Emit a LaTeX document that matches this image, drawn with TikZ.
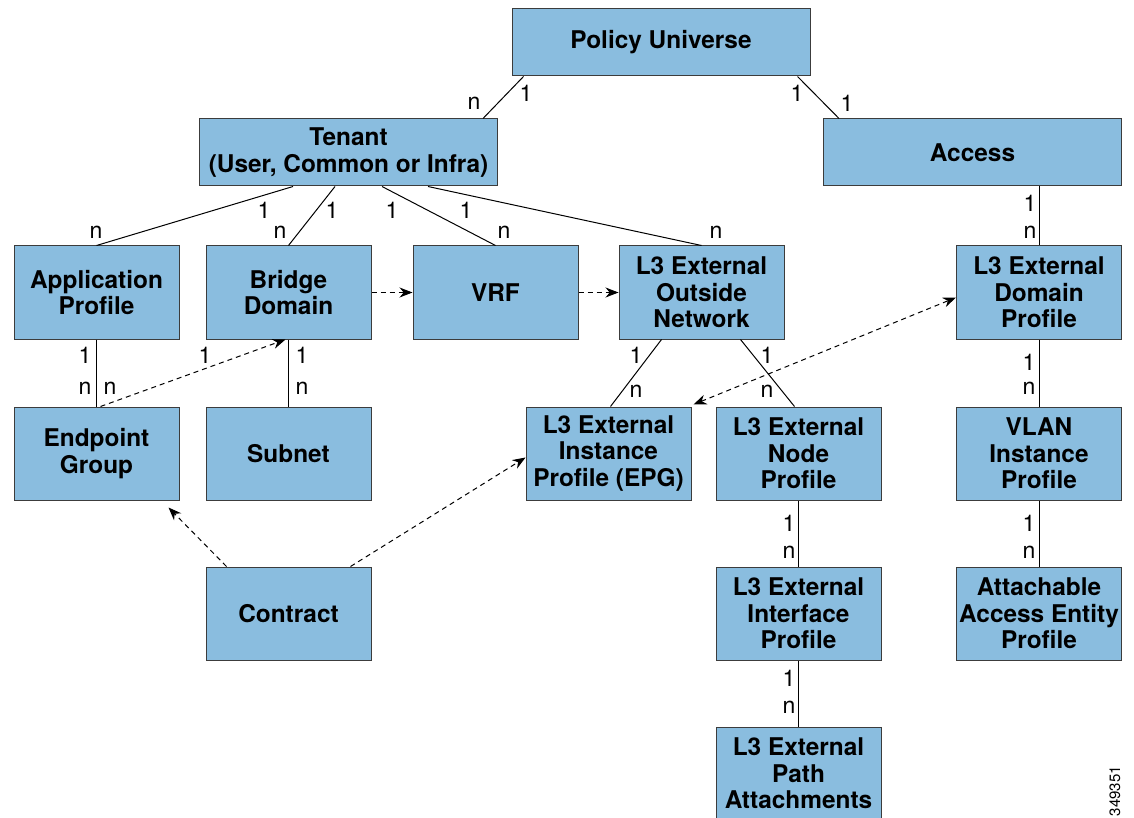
\documentclass[tikz,border=0pt]{standalone}
\usepackage{fontspec}
\setmainfont{TeX Gyre Heros}
\usetikzlibrary{arrows.meta}

\definecolor{boxblue}{RGB}{138,189,223}
\definecolor{boxedge}{RGB}{60,60,60}

\begin{document}
\begin{tikzpicture}[x=0.5pt, y=-0.5pt, line width = 0.5pt,
  box/.style={draw=boxedge, fill=boxblue, minimum width=82.5pt, minimum height=46.5pt,
    align=center, inner sep=1pt, font=\bfseries\fontsize{12.2}{13.3}\selectfont},
  widebox/.style={box, minimum width=149pt, minimum height=33.5pt},
  card/.style={inner sep=0pt, font=\fontsize{11.5}{13.5}\selectfont},
  ref/.style={dash pattern=on 2.5pt off 2pt, -{Stealth[length=6.5pt,width=5pt]}},
  twoway/.style={dash pattern=on 2.5pt off 2pt, {Stealth[length=6.5pt,width=5pt]}-{Stealth[length=6.5pt,width=5pt]}}]

\useasboundingbox (0,0) rectangle (1134,818);
\clip (0,0) rectangle (1134,818);

\node [widebox] (pu) at (661,42.5) {Policy Universe};
\node [widebox] (tenant) at (348.5,152.5) {Tenant\\(User, Common or Infra)};
\node [widebox] (access) at (972.5,152.5) {Access};

\node [box] (app) at (96.5,292.5) {Application\\Profile};
\node [box] (bd) at (288.5,292.5) {Bridge\\Domain};
\node [box] (vrf) at (495.5,292.5) {VRF};
\node [box] (l3out) at (701.5,292.5) {L3 External\\Outside\\Network};
\node [box] (dom) at (1039,292.5) {L3 External\\Domain\\Profile};

\node [box] (epg) at (96.5,453.5) {Endpoint\\Group};
\node [box] (subnet) at (288.5,453.5) {Subnet};
\node [box] (instp) at (608.5,453.5) {L3 External\\Instance\\Profile (EPG)};
\node [box] (nodep) at (798.5,453.5) {L3 External\\Node\\Profile};
\node [box] (vlan) at (1039,453.5) {VLAN\\Instance\\Profile};

\node [box] (contract) at (288.5,613.5) {Contract};
\node [box] (ifp) at (798.5,613.5) {L3 External\\Interface\\Profile};
\node [box] (aaep) at (1039,613.5) {Attachable\\Access Entity\\Profile};
\node [box] (path) at (798.5,773.5) {L3 External\\Path\\Attachments};

% containment
\draw ([xshift=6pt]pu.south west)--([xshift=-7.5pt]tenant.north east);
\draw ([xshift=-6.5pt]pu.south east)--([xshift=8pt]access.north west);
\draw ([xshift=47pt]tenant.south west)--(app.north);
\draw ([xshift=68pt]tenant.south west)--(bd.north);
\draw ([xshift=91.5pt]tenant.south west)--(vrf.north);
\draw ([xshift=114.5pt]tenant.south west)--(l3out.north);
\draw (access.south -| dom.north)--(dom.north);
\draw (app.south)--(epg.north);
\draw (bd.south)--(subnet.north);
\draw ([xshift=21.5pt]l3out.south west)--([xshift=1pt]instp.north);
\draw ([xshift=-22pt]l3out.south east)--([xshift=-2pt]nodep.north);
\draw (dom.south)--(vlan.north);
\draw (nodep.south)--(ifp.north);
\draw (vlan.south)--(aaep.north);
\draw (ifp.south)--(path.north);

% references
\draw [ref] (bd.east)--(vrf.west);
\draw [ref] (vrf.east)--(l3out.west);
\draw [ref] ([xshift=2pt]epg.north)--([xshift=-1.5pt]bd.south);
\draw [twoway] ([xshift=1pt,yshift=1pt]instp.north east)--([yshift=-2.5pt]dom.west);
\draw [ref] ([xshift=10.5pt]contract.north west)--([xshift=-5.5pt,yshift=-3.5pt]epg.south east);
\draw [ref] ([xshift=-10.5pt]contract.north east)--([yshift=-2pt]instp.west);

% cardinalities
\node [card] (c1) at (474,103) {n};
\node [card] (c2) at (526,93) {1};
\node [card] (c3) at (797,93) {1};
\node [card] (c4) at (847,103) {1};
\node [card] (c5) at (264,210) {1};
\node [card] (c6) at (96,232) {n};
\node [card] (c7) at (332,210) {1};
\node [card] (c8) at (280,232) {n};
\node [card] (c9) at (392,210) {1};
\node [card] (c10) at (504,232) {n};
\node [card] (c11) at (466,210) {1};
\node [card] (c12) at (716,232) {n};
\node [card] (c13) at (1030,203) {1};
\node [card] (c14) at (1030,232) {n};
\node [card] (c15) at (85,355) {1};
\node [card] (c16) at (85,388) {n};
\node [card] (c17) at (110,388) {n};
\node [card] (c18) at (205,355) {1};
\node [card] (c19) at (302,355) {1};
\node [card] (c20) at (302,388) {n};
\node [card] (c21) at (636,355) {1};
\node [card] (c22) at (636,391) {n};
\node [card] (c23) at (767,355) {1};
\node [card] (c24) at (767,391) {n};
\node [card] (c25) at (1029,362) {1};
\node [card] (c26) at (1029,388) {n};
\node [card] (c27) at (789,523) {1};
\node [card] (c28) at (789,552) {n};
\node [card] (c29) at (1029,523) {1};
\node [card] (c30) at (1029,552) {n};
\node [card] (c31) at (789,678) {1};
\node [card] (c32) at (789,707) {n};

\node [rotate=90, inner sep=0pt, font=\fontsize{7.5}{9}\selectfont] (figno) at (1115,791) {349351};

\end{tikzpicture}
\end{document}
